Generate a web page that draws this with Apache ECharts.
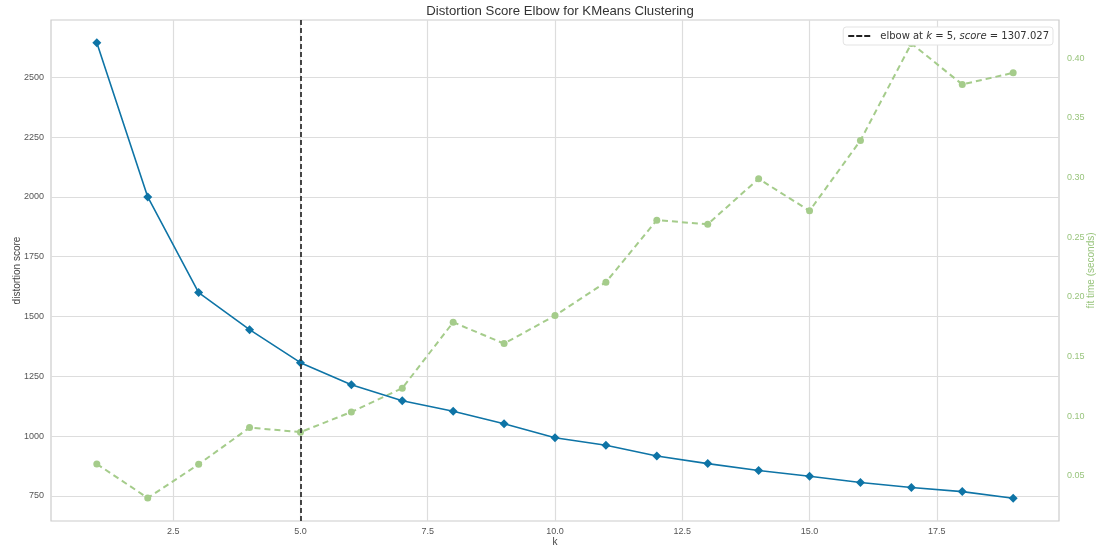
<!DOCTYPE html>
<html>
<head>
<meta charset="utf-8">
<script src="https://cdn.jsdelivr.net/npm/echarts@6/dist/echarts.min.js"></script>
<style>html,body{margin:0;padding:0;background:#fff}#c{width:1101px;height:550px}</style>
</head>
<body>
<div id="c"></div>
<script>
const kValues = [1,2,3,4,5,6,7,8,9,10,11,12,13,14,15,16,17,18,19];
const distortion = [2645,2000,1600,1445,1307.027,1215,1148,1104,1052,993,962,917,885,856,832,806,785,768,740];
const fitTime = [0.0598,0.0313,0.0595,0.0903,0.0865,0.1034,0.1233,0.1786,0.1607,0.1842,0.2122,0.2642,0.2608,0.2989,0.2720,0.3310,0.4123,0.3780,0.3877];
const xTicks = [2.5,5.0,7.5,10.0,12.5,15.0,17.5];
const yTicks = [750,1000,1250,1500,1750,2000,2250,2500];
const y2Ticks = [0.05,0.10,0.15,0.20,0.25,0.30,0.35,0.40];
const elbowK = 5;
const elbowScore = 1307.027;

const blue = '#0e74a6';
const green = '#a5cc8b';
const greenText = '#98c47c';
const font = 'Liberation Sans, Arial, sans-serif';
const legendFont = 'DejaVu Sans, sans-serif';

const chart = echarts.init(document.getElementById('c'), null, {renderer: 'canvas'});
chart.setOption({
  animation: false,
  backgroundColor: '#fff',
  title: {
    text: 'Distortion Score Elbow for KMeans Clustering',
    left: 555, top: 0, textAlign: 'center',
    textStyle: {fontFamily: font, fontSize: 13.2, fontWeight: 'normal', color: '#333'}
  },
  grid: {left: 51, right: 42, top: 20, bottom: 29, outerBoundsMode: 'none', containLabel: false,
         show: true, borderColor: '#cccccc', borderWidth: 1.2, backgroundColor: '#fff'},
  legend: {
    right: 48, top: 27,
    data: [{name: 'elbow', icon: 'path://M0,0H6V2H0Z M8,0H14V2H8Z M16,0H22V2H16Z', itemStyle: {color: '#222'}}],
    backgroundColor: '#fff', borderColor: '#e3e3e3', borderWidth: 1, borderRadius: 3,
    padding: [4, 4, 4, 5],
    itemWidth: 22, itemHeight: 2, itemGap: 8,
    formatter: function () {
      return '{n|elbow at }{i|k}{n| = ' + elbowK + ', }{i|score}{n| = ' + elbowScore.toFixed(3) + '}';
    },
    textStyle: {
      fontFamily: legendFont, fontSize: 10, color: '#333', padding: [0, 0, 0, 5],
      rich: {
        n: {fontFamily: legendFont, fontSize: 10, color: '#333'},
        i: {fontFamily: legendFont, fontSize: 10, color: '#333', fontStyle: 'italic'}
      }
    }
  },
  xAxis: {
    type: 'value', min: 0.1, max: 19.9,
    name: 'k', nameLocation: 'middle', nameGap: 16, nameMoveOverlap: false,
    nameTextStyle: {fontFamily: font, fontSize: 10, color: '#444'},
    axisLine: {show: false},
    axisTick: {show: false, customValues: xTicks},
    axisLabel: {customValues: xTicks, formatter: v => v.toFixed(1), fontFamily: font, fontSize: 9, color: '#555', margin: 6},
    splitLine: {show: true, lineStyle: {color: '#dddddd', width: 1.2}}
  },
  yAxis: [{
    type: 'value', min: 645, max: 2740,
    name: 'distortion score', nameLocation: 'middle', nameGap: 29, nameRotate: 90, nameMoveOverlap: false,
    nameTextStyle: {fontFamily: font, fontSize: 10, color: '#444'},
    axisLine: {show: false},
    axisTick: {show: false, customValues: yTicks},
    axisLabel: {customValues: yTicks, formatter: v => String(v), fontFamily: font, fontSize: 9, color: '#555', margin: 7},
    splitLine: {show: true, lineStyle: {color: '#dddddd', width: 1.2}}
  }, {
    type: 'value', min: 0.012, max: 0.432, position: 'right',
    name: 'fit time (seconds)', nameLocation: 'middle', nameGap: 27, nameRotate: 90, nameMoveOverlap: false,
    nameTextStyle: {fontFamily: font, fontSize: 10, color: greenText},
    axisLine: {show: false},
    axisTick: {show: false, customValues: y2Ticks},
    axisLabel: {customValues: y2Ticks, formatter: v => v.toFixed(2), fontFamily: font, fontSize: 9, color: greenText, margin: 8},
    splitLine: {show: false}
  }],
  series: [{
    name: 'fit time', type: 'line', yAxisIndex: 1,
    data: kValues.map((k, i) => [k, fitTime[i]]),
    symbol: 'circle', symbolSize: 7,
    lineStyle: {color: green, width: 2, type: [6, 4]},
    itemStyle: {color: green},
    z: 2
  }, {
    name: 'distortion', type: 'line', yAxisIndex: 0,
    data: kValues.map((k, i) => [k, distortion[i]]),
    symbol: 'diamond', symbolSize: 9,
    lineStyle: {color: blue, width: 1.6},
    itemStyle: {color: blue},
    z: 3
  }, {
    name: 'elbow', type: 'line', yAxisIndex: 0,
    data: [],
    symbol: 'none',
    lineStyle: {color: '#222', width: 2, type: [5, 3]},
    itemStyle: {color: '#222'},
    markLine: {
      silent: true, symbol: 'none', label: {show: false},
      lineStyle: {color: '#333', width: 1.8, type: [5, 3]},
      data: [{xAxis: elbowK}]
    },
    z: 4
  }]
});
</script>
</body>
</html>
